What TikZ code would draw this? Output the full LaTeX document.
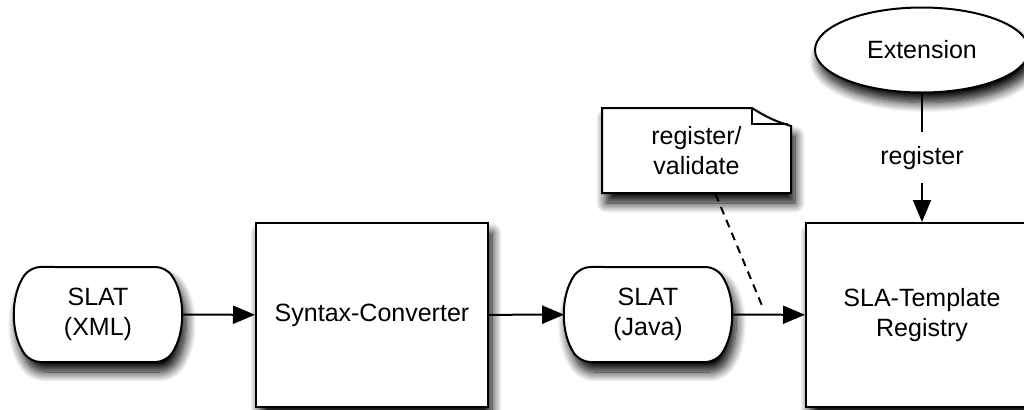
\documentclass[tikz,border=0pt]{standalone}
\usepackage{fontspec}
\setmainfont{Liberation Sans}
\usetikzlibrary{arrows.meta,shapes.geometric,shapes.misc,shadows.blur,calc}

\begin{document}
\begin{tikzpicture}[x=0.5pt, y=0.5pt,
  >={Triangle[length=11pt,width=9pt,fill=black]},
  font=\fontsize{12.5}{15}\selectfont, line width=1pt,
  softshadow/.style={blur shadow={shadow xshift=2pt, shadow yshift=-5pt,
    shadow blur radius=5pt, shadow blur steps=12, shadow opacity=100}},
  procbox/.style={draw, fill=white, softshadow, minimum width=116pt,
    minimum height=92pt, align=center},
  slatbox/.style={draw, fill=white, softshadow, rounded rectangle,
    rounded rectangle arc length=70, rounded corners=5pt, minimum width=85pt,
    minimum height=47.5pt, align=center},
  extnode/.style={draw, fill=white, softshadow, ellipse, inner sep=0pt,
    minimum width=107pt, minimum height=42.5pt},
  flow/.style={->},
  hint/.style={dash pattern=on 4pt off 3pt}]

  % page frame
  \useasboundingbox (0,0) rectangle (1024,409);
  \clip (0,0) rectangle (1024,409);

  % main chain
  \node[slatbox]  (xml)  at (98,94.5)  {SLAT\\(XML)};
  \node[procbox]  (conv) at (372,94)   {Syntax-Converter};
  \node[slatbox]  (java) at (648,94.5) {SLAT\\(Java)};
  \node[procbox]  (reg)  at (922,94)   {SLA-Template\\Registry};

  % extension on top
  \node[extnode]  (ext)  at (922,359)  {Extension};

  % note with folded corner
  \coordinate (nc) at (696.5,258.5);
  \path[draw, fill=white, softshadow]
    ($(nc)+(-94.5,-42.5)$) -- ($(nc)+(-94.5,42.5)$)
    -- ($(nc)+(55.5,42.5)$)
    to[bend right=8] ($(nc)+(94.5,24.5)$)
    -- ($(nc)+(94.5,-42.5)$) -- cycle;
  \draw ($(nc)+(55.5,42.5)$) -- ++(0,-16) -- ++(36,0);
  \node[minimum width=94pt, minimum height=42.5pt, align=center]
        (note) at (nc) {register/\\validate};
  \coordinate (hook) at (763,101);

  % connectors
  \draw[flow] (xml) -- (conv);
  \draw[flow] (conv) -- (java);
  \draw[flow] (java) -- (reg);
  \draw[flow] (ext) -- node[fill=white, inner xsep=2pt, inner ysep=7pt] {register} (reg);
  \draw[hint] ($(note.south west)!0.6!(note.south east)$) -- (hook);
\end{tikzpicture}
\end{document}
